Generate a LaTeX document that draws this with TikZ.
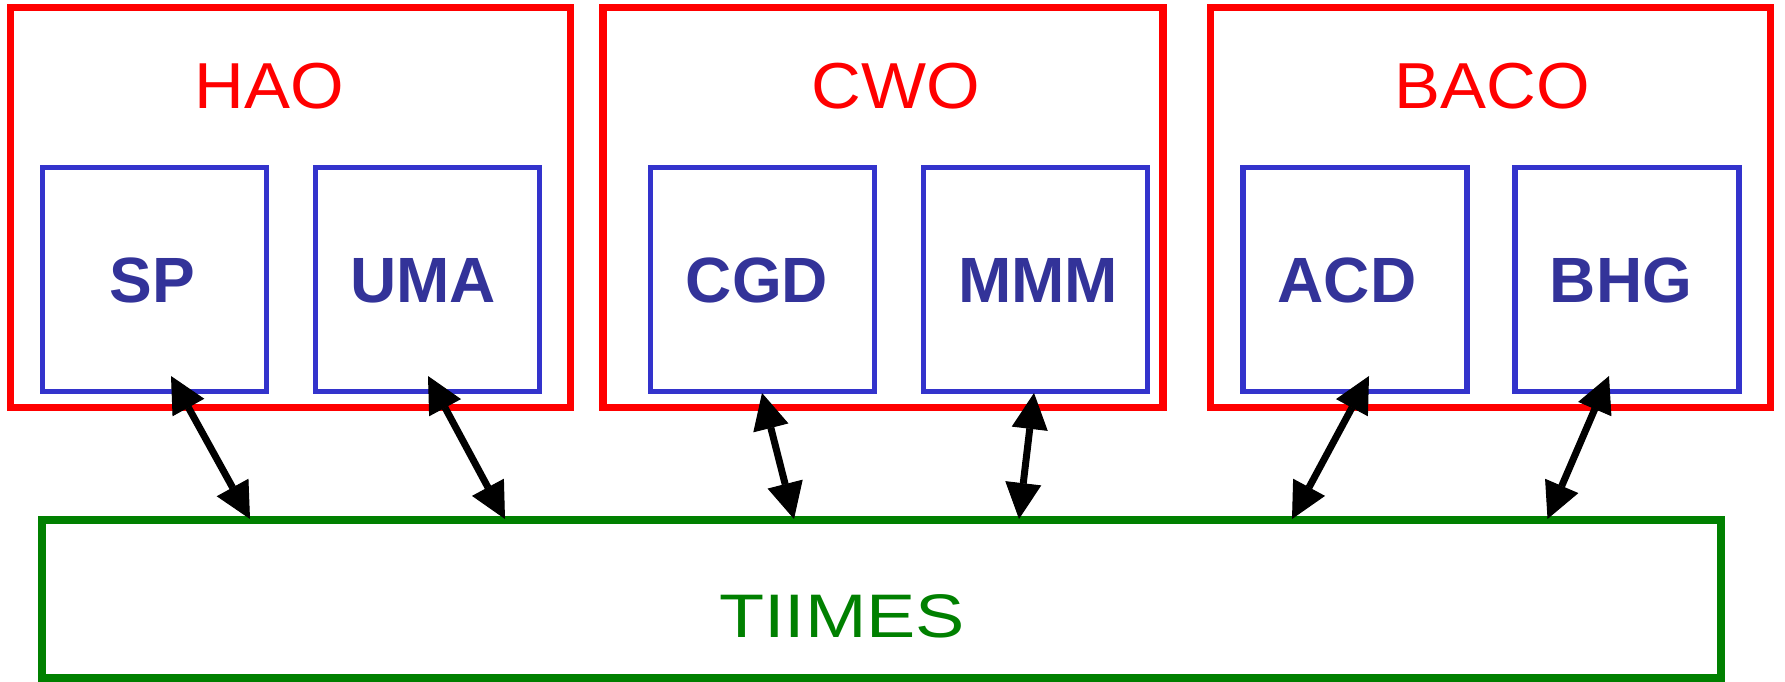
\documentclass[tikz,border=0pt]{standalone}
\usepackage{fontspec}
\setmainfont{Liberation Sans}
\usetikzlibrary{arrows.meta}
\definecolor{cred}{RGB}{255,0,0}
\definecolor{cblue}{RGB}{51,51,204}
\definecolor{cnavy}{RGB}{51,51,153}
\definecolor{cgreen}{RGB}{0,128,0}
\tikzset{
  group/.style={draw=cred, line width=7.5pt, minimum width=560pt, minimum height=400pt, inner sep=0pt, rectangle},
  grouplabel/.style={text=cred, font=\fontsize{65}{70}\selectfont, anchor=base, inner sep=0pt},
  inbox/.style={draw=cblue, line width=5.5pt, minimum width=224pt, minimum height=224pt, inner sep=0pt, rectangle},
  intext/.style={text=cnavy, font=\fontsize{64}{70}\selectfont\bfseries, anchor=base, inner sep=0pt},
  bus/.style={draw=cgreen, line width=7.5pt, minimum width=1679pt, minimum height=158pt, inner sep=0pt, rectangle},
  bustext/.style={text=cgreen, font=\fontsize{61.5}{70}\selectfont, anchor=base, inner sep=0pt},
  link/.style={line width=7pt, {Triangle[length=36pt,width=36pt,line width=1pt]}-{Triangle[length=36pt,width=36pt,line width=1pt]}}
}
\begin{document}
\begin{tikzpicture}[x=1pt,y=-1pt]
\useasboundingbox (0,0) rectangle (1785,682);
% groups
\node[group] (hao) at (290.35,207.3) {};
\node[group] (cwo) at (883,207.3) {};
\node[group] (baco) at (1490.25,207.3) {};
\node[grouplabel] (haol) at (269,108.5) {\scalebox{1.06}[1]{HAO}};
\node[grouplabel] (cwol) at (896,108.5) {\scalebox{1.06}[1]{CWO}};
\node[grouplabel] (bacol) at (1492,108.5) {\scalebox{1.06}[1]{BACO}};
% inner boxes
\node[inbox] (sp) at (154.5,279.5) {};
\node[inbox] (uma) at (427.5,279.5) {};
\node[inbox] (cgd) at (762.5,279.5) {};
\node[inbox] (mmm) at (1035.5,279.5) {};
\node[inbox] (acd) at (1355,279.5) {};
\node[inbox] (bhg) at (1627,279.5) {};
\node[intext] (spt) at (152,302.5) {SP};
\node[intext] (umat) at (423,302.5) {UMA};
\node[intext] (cgdt) at (757,302.5) {CGD};
\node[intext] (mmmt) at (1038,302.5) {MMM};
\node[intext] (acdt) at (1347,302.5) {ACD};
\node[intext] (bhgt) at (1621,302.5) {BHG};
% bus
\node[bus] (tiimes) at (881.5,599) {};
\node[bustext] (tiimest) at (842,637) {\scalebox{1.2}[1]{TIIMES}};
% connector ends
\coordinate (sp-e) at (171,376);
\coordinate (uma-e) at (428,376);
\coordinate (cgd-e) at (762,393);
\coordinate (mmm-e) at (1034,393);
\coordinate (acd-e) at (1369,376);
\coordinate (bhg-e) at (1609,376);
\coordinate (t1) at (250,519);
\coordinate (t2) at (505,519);
\coordinate (t3) at (794,519);
\coordinate (t4) at (1019,519);
\coordinate (t5) at (1292,519);
\coordinate (t6) at (1547.5,519);
\draw[link] (sp-e) -- (t1);
\draw[link] (uma-e) -- (t2);
\draw[link] (cgd-e) -- (t3);
\draw[link] (mmm-e) -- (t4);
\draw[link] (acd-e) -- (t5);
\draw[link] (bhg-e) -- (t6);
\end{tikzpicture}
\end{document}
